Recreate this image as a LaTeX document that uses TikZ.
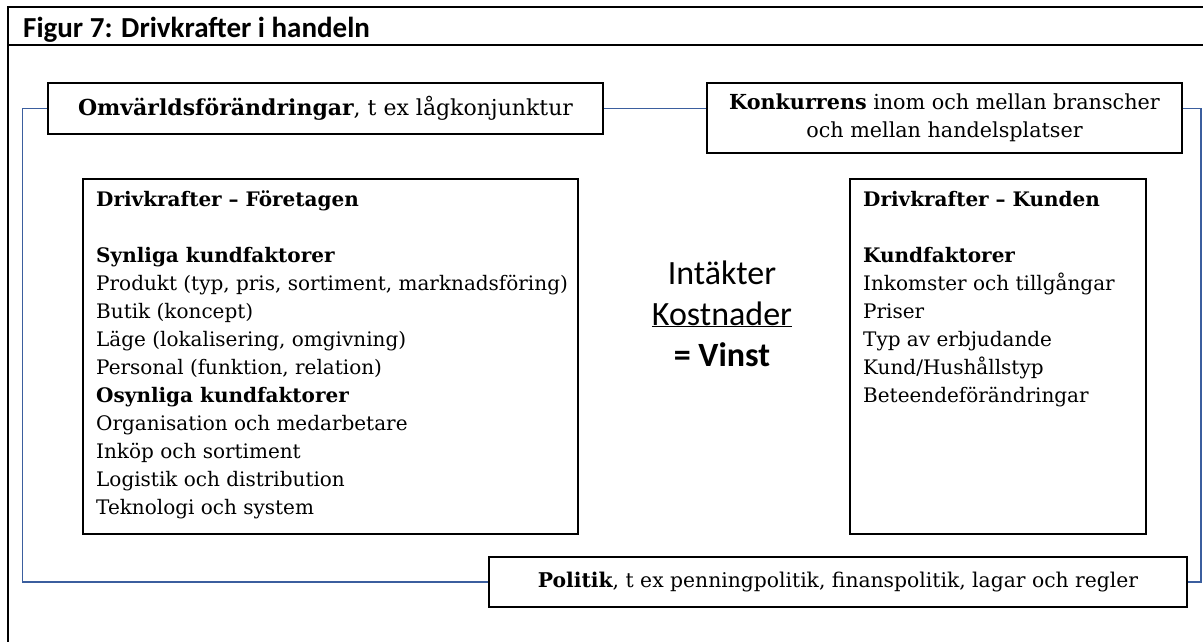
\documentclass[tikz,border=0pt]{standalone}
\usepackage{fontspec}
\setmainfont{DejaVu Serif}
\newfontfamily\calfont{Carlito}
\definecolor{connblue}{RGB}{59,94,158}
\begin{document}
\begin{tikzpicture}[x=1pt,y=-1pt,
  frameline/.style={line width=1.8pt},
  tbox/.style={draw, line width=1.6pt, inner sep=0pt, align=center},
  bigbox/.style={draw, line width=1.6pt, inner sep=0pt},
  body/.style={anchor=north west, inner sep=0pt, align=left, font=\fontsize{20}{28}\selectfont},
  ctext/.style={font=\calfont\fontsize{34}{40}\selectfont, anchor=base, inner sep=0pt},
  conn/.style={draw=connblue, line width=1.4pt}]
\useasboundingbox (0,0) rectangle (1203,641);
\fill[white] (0,0) rectangle (1203,641);
\draw[frameline] (1210,7) -- (8,7) -- (8,650);
\draw[frameline] (8,45) -- (1210,45);
\node[anchor=base west, inner sep=0pt, font=\calfont\bfseries\fontsize{29}{33}\selectfont] (title) at (23,37) {Figur 7: Drivkrafter i handeln};

\node[tbox, font=\fontsize{22}{28}\selectfont, minimum width=555pt, minimum height=51pt] (omv) at (325.5,108.5) {\textbf{Omvärldsförändringar}, t ex lågkonjunktur};
\node[tbox, font=\fontsize{20.7}{28}\selectfont, minimum width=475pt, minimum height=70pt] (konk) at (944.5,118) {\textbf{Konkurrens} inom och mellan branscher\\och mellan handelsplatser};
\node[tbox, font=\fontsize{20.3}{28}\selectfont, minimum width=698pt, minimum height=50pt] (pol) at (838,582) {\textbf{Politik}, t ex penningpolitik, finanspolitik, lagar och regler};

\node[bigbox, minimum width=495pt, minimum height=355pt, anchor=north west] (ftg) at (82,178) {};
\node[body] (ftgtext) at (96,191) {\textbf{Drivkrafter – Företagen}\\[28pt]
\textbf{Synliga kundfaktorer}\\
Produkt (typ, pris, sortiment, marknadsföring)\\
Butik (koncept)\\
Läge (lokalisering, omgivning)\\
Personal (funktion, relation)\\
\textbf{Osynliga kundfaktorer}\\
Organisation och medarbetare\\
Inköp och sortiment\\
Logistik och distribution\\
Teknologi och system};

\node[bigbox, minimum width=296pt, minimum height=355pt, anchor=north west] (kund) at (849,178) {};
\node[body] (kundtext) at (863,191) {\textbf{Drivkrafter – Kunden}\\[28pt]
\textbf{Kundfaktorer}\\
Inkomster och tillgångar\\
Priser\\
Typ av erbjudande\\
Kund/Hushållstyp\\
Beteendeförändringar};

\node[ctext] (intakt) at (722,284) {Intäkter};
\node[ctext] (kost) at (722,325) {\underline{Kostnader}};
\node[ctext] (vinst) at (722,366) {\textbf{= Vinst}};

\coordinate (rx) at (1201,0);
\draw[conn] (omv.east) -- (omv.east -| konk.west);
\draw[conn] (omv.west) -- ++(-25,0) |- (pol.west);
\draw[conn] (omv.east -| konk.east) -- (omv.east -| rx) |- (pol.east);
\end{tikzpicture}
\end{document}
